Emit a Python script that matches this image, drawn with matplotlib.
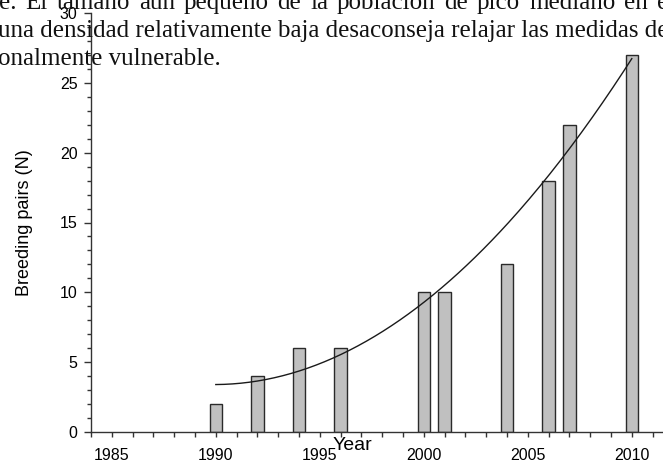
import numpy as np
import matplotlib
matplotlib.use("Agg")
import matplotlib.pyplot as plt
from matplotlib.ticker import MultipleLocator

# breeding pairs per survey year
years = [1990, 1992, 1994, 1996, 2000, 2001, 2004, 2006, 2007, 2010]
pairs = [2, 4, 6, 6, 10, 10, 12, 18, 22, 27]

# page text that sits behind the figure
page_lines = [
    "e. El tamaño aún pequeño de la población de pico mediano en e",
    "una densidad relativamente baja desaconseja relajar las medidas de",
    "onalmente vulnerable.",
]

W, H = 663, 463
fig = plt.figure(figsize=(W / 100, H / 100), dpi=100)
fig.patch.set_facecolor("white")
renderer = fig.canvas.get_renderer()

serif = dict(fontsize=18, family="Liberation Serif", color="#111111", va="baseline", ha="left")

# first line is justified on the page: spread the words so it runs off the right edge
words = page_lines[0].split(" ")
x0, x_end = -1, 668
texts = [fig.text(0, 1 - 9 / H, w, **serif) for w in words]
widths = [t.get_window_extent(renderer).width for t in texts]
gap = (x_end - x0 - sum(widths)) / (len(words) - 1)
x = x0
for t, wd in zip(texts, widths):
    t.set_x(x / W)
    x += wd + gap

fig.text(-2 / W, 1 - 37 / H, page_lines[1], **serif)
fig.text(-2 / W, 1 - 65 / H, page_lines[2], **serif)

ax = fig.add_axes([91 / W, 31 / H, 582.4 / W, 419 / H])
ax.patch.set_alpha(0)

ax.bar(years, pairs, width=0.6, color="#c0c0c0", edgecolor="#2a2a2a", linewidth=1.0, zorder=2)

# quadratic trend line fitted to the counts
coef = np.polyfit(years, pairs, 2)
xs = np.linspace(min(years), max(years), 200)
ax.plot(xs, np.polyval(coef, xs), color="#1a1a1a", linewidth=1.0, zorder=3)

ax.set_xlim(1984, 2012)
ax.set_ylim(0, 30)
for s in ["top", "right"]:
    ax.spines[s].set_visible(False)
for s in ["left", "bottom"]:
    ax.spines[s].set_color("#333333")
    ax.spines[s].set_linewidth(1.0)

ax.xaxis.set_major_locator(MultipleLocator(5))
ax.xaxis.set_minor_locator(MultipleLocator(1))
ax.yaxis.set_major_locator(MultipleLocator(5))
ax.yaxis.set_minor_locator(MultipleLocator(1))
ax.set_xticks([1985, 1990, 1995, 2000, 2005, 2010])

ax.tick_params(axis="x", which="both", direction="out", length=3.5, width=1, color="#333333",
               pad=8, labelsize=11.5)
ax.tick_params(axis="y", which="major", direction="out", length=4.8, width=1, color="#333333",
               pad=5, labelsize=11.5)
ax.tick_params(axis="y", which="minor", direction="out", length=3.2, width=1, color="#333333")
for lab in ax.get_xticklabels() + ax.get_yticklabels():
    lab.set_family("Liberation Sans")

ax.set_ylabel("Breeding pairs (N)", fontsize=13, family="Liberation Sans", labelpad=19)
fig.text(352 / W, 1 - 445 / H, "Year", fontsize=14, family="Liberation Sans",
         ha="center", va="center")

fig.savefig("out.png", dpi=100)
